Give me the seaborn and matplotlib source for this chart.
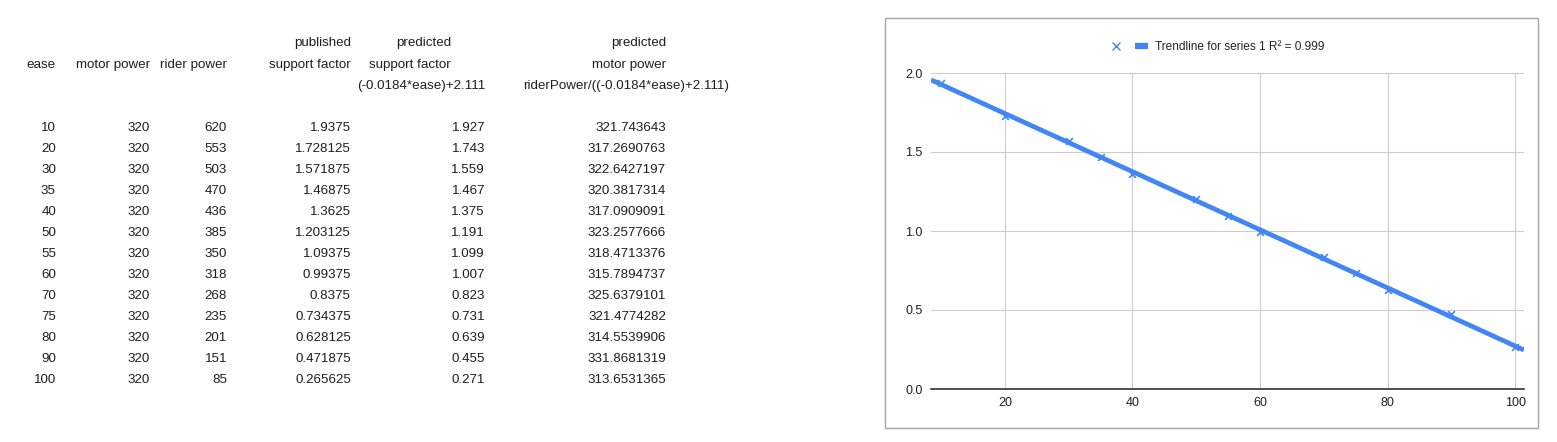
import numpy as np
import pandas as pd
import matplotlib
matplotlib.use("Agg")
import matplotlib.pyplot as plt
from matplotlib.lines import Line2D
from matplotlib.patches import Rectangle
import seaborn as sns

# data
ease = [10, 20, 30, 35, 40, 50, 55, 60, 70, 75, 80, 90, 100]
motor_power = [320] * 13
rider_power = [620, 553, 503, 470, 436, 385, 350, 318, 268, 235, 201, 151, 85]
published_sf = ["1.9375", "1.728125", "1.571875", "1.46875", "1.3625", "1.203125",
                "1.09375", "0.99375", "0.8375", "0.734375", "0.628125", "0.471875", "0.265625"]
predicted_sf = ["1.927", "1.743", "1.559", "1.467", "1.375", "1.191", "1.099",
                "1.007", "0.823", "0.731", "0.639", "0.455", "0.271"]
predicted_motor = ["321.743643", "317.2690763", "322.6427197", "320.3817314", "317.0909091",
                   "323.2577666", "318.4713376", "315.7894737", "325.6379101", "321.4774282",
                   "314.5539906", "331.8681319", "313.6531365"]
legend_label = "Trendline for series 1 R\u00b2 = 0.999"
x_ticks = [20, 40, 60, 80, 100]
y_ticks = [0.0, 0.5, 1.0, 1.5, 2.0]

df = pd.DataFrame({"ease": ease, "published": [float(v) for v in published_sf]})

sns.set_theme(style="whitegrid")
plt.rcParams["font.family"] = ["Liberation Sans", "DejaVu Sans"]

W, H = 1557, 442
fig = plt.figure(figsize=(W / 100, H / 100), dpi=100)
fig.patch.set_facecolor("white")

def px(x, y):
    return x / W, 1 - y / H

TXT = "#1f1f1f"
FS = 9.6

# --- spreadsheet table ---
headers = [
    ("ease", 56, 65), ("motor power", 150, 65), ("rider power", 227, 65),
    ("published", 351, 43), ("support factor", 351, 65),
    ("predicted", 451, 43), ("support factor", 451, 65), ("(-0.0184*ease)+2.111", 485, 86),
    ("predicted", 666, 43), ("motor power", 666, 65),
    ("riderPower/((-0.0184*ease)+2.111)", 729, 86),
]
for text, xr, yc in headers:
    fig.text(*px(xr, yc), text, ha="right", va="center", fontsize=FS, color=TXT)

col_right = [56, 150, 227, 351, 485, 666]
cols = [ease, motor_power, rider_power, published_sf, predicted_sf, predicted_motor]
for i in range(len(ease)):
    yc = 128 + i * 21.0
    for xr, col in zip(col_right, cols):
        fig.text(*px(xr, yc), str(col[i]), ha="right", va="center", fontsize=FS, color=TXT)

# --- chart box ---
fig.add_artist(Rectangle(px(885, 428), (1538 - 885) / W, (428 - 18) / H,
                         transform=fig.transFigure, fill=False,
                         edgecolor="#a8a8a8", linewidth=1.0))

ax = fig.add_axes([931 / W, 1 - 389 / H, (1524 - 931) / W, (389 - 73) / H])
ax.set_facecolor("white")
ax.set_xlim(8.4, 101.4)
ax.set_ylim(0, 2.0)

blue = "#4285f4"
sns.regplot(data=df, x="ease", y="published", ax=ax, scatter=False, ci=None,
            truncate=False, line_kws={"color": blue, "linewidth": 3.4,
                                      "solid_capstyle": "butt"})
sns.scatterplot(data=df, x="ease", y="published", ax=ax, marker="x", s=24,
                color=blue, linewidth=1.2, zorder=3)

ax.set_xticks(x_ticks)
ax.set_yticks(y_ticks)
ax.set_yticklabels([f"{v:.1f}" for v in y_ticks])
ax.set_xlabel("")
ax.set_ylabel("")
ax.grid(True, color="#cccccc", linewidth=0.8)
for s in ["top", "right", "left"]:
    ax.spines[s].set_visible(False)
ax.spines["bottom"].set_color("#333333")
ax.spines["bottom"].set_linewidth(1.2)
ax.spines["bottom"].set_zorder(4)
ax.tick_params(axis="both", length=0, labelsize=9, colors="#222222")
ax.tick_params(axis="x", pad=6)
ax.tick_params(axis="y", pad=6)

handles = [Line2D([], [], color=blue, marker="x", linestyle="none", markersize=5.5),
           Line2D([], [], color=blue, linewidth=4.5, solid_capstyle="butt")]
fig.legend(handles, ["", legend_label], loc="center", bbox_to_anchor=px(1217, 47),
           ncol=2, frameon=False, fontsize=8.6, handlelength=1.1,
           handletextpad=0.6, columnspacing=0.4)

fig.savefig("out.png", dpi=100, facecolor="white")
